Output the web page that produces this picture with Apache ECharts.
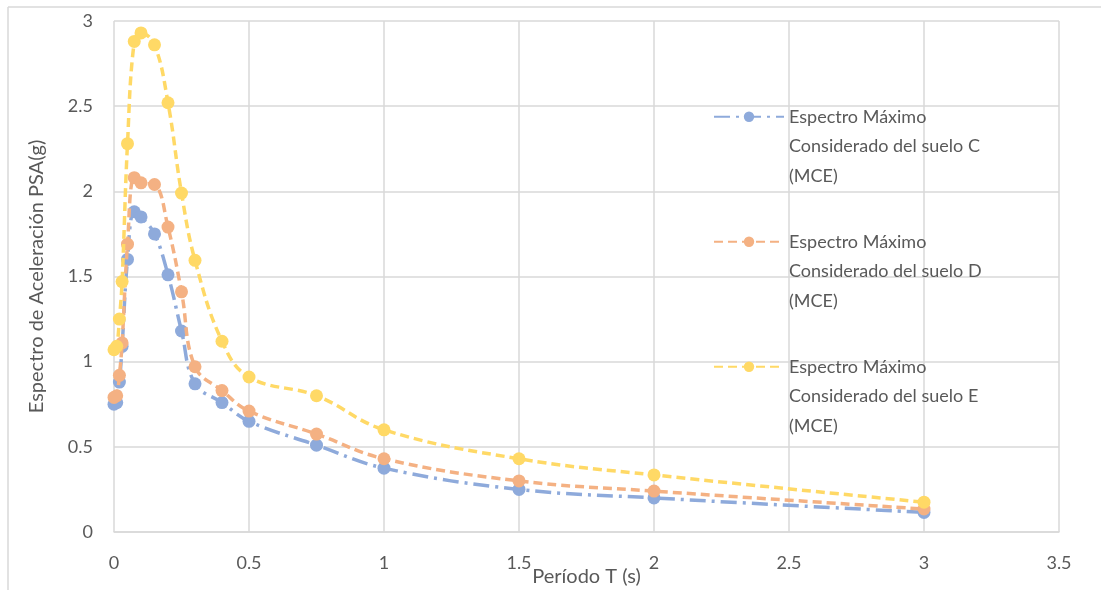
<!DOCTYPE html>
<html>
<head>
<meta charset="utf-8">
<script src="https://cdn.jsdelivr.net/npm/echarts@6/dist/echarts.min.js"></script>
<style>
html,body{margin:0;padding:0;background:#fff;}
#chart{width:1101px;height:590px;}
</style>
</head>
<body>
<div id="chart"></div>
<script>
const periods = [0, 0.01, 0.02, 0.03, 0.05, 0.075, 0.1, 0.15, 0.2, 0.25, 0.3, 0.4, 0.5, 0.75, 1, 1.5, 2, 3];
const sueloC = [0.75, 0.76, 0.88, 1.09, 1.60, 1.88, 1.85, 1.75, 1.51, 1.18, 0.87, 0.76, 0.65, 0.51, 0.375, 0.25, 0.20, 0.115];
const sueloD = [0.79, 0.80, 0.92, 1.11, 1.69, 2.08, 2.05, 2.04, 1.79, 1.41, 0.97, 0.83, 0.71, 0.575, 0.43, 0.30, 0.24, 0.135];
const sueloE = [1.07, 1.09, 1.25, 1.47, 2.28, 2.88, 2.93, 2.86, 2.52, 1.99, 1.595, 1.12, 0.91, 0.80, 0.60, 0.43, 0.335, 0.175];
const seriesNames = [
  'Espectro Máximo Considerado del suelo C (MCE)',
  'Espectro Máximo Considerado del suelo D (MCE)',
  'Espectro Máximo Considerado del suelo E (MCE)'
];
const legendLines = [
  ['Espectro Máximo', 'Considerado del suelo C', '(MCE)'],
  ['Espectro Máximo', 'Considerado del suelo D', '(MCE)'],
  ['Espectro Máximo', 'Considerado del suelo E', '(MCE)']
];
const colors = ['#8EAADB', '#F4B183', '#FFD966'];
const yAxisTitle = 'Espectro de Aceleración PSA(g)';
const xAxisTitle = 'Período T (s)';

const FONT = 'Lato';
const TXT = '#595959';
const GRID = '#D9D9D9';

function pairs(vals) { return periods.map((t, i) => [t, vals[i]]); }

const chart = echarts.init(document.getElementById('chart'));
const dashTypes = [[16, 6, 3, 6], [9, 5], [9, 5]];
const allVals = [sueloC, sueloD, sueloE];
const legendTops = [38, 163, 288];

const option = {
  animation: false,
  backgroundColor: '#fff',
  textStyle: { fontFamily: FONT },
  grid: { left: 114, right: 42, top: 21, bottom: 58, containLabel: false, outerBoundsMode: 'none' },
  xAxis: {
    type: 'value', min: 0, max: 3.5, interval: 0.5,
    name: xAxisTitle, nameLocation: 'middle', nameGap: 35, nameMoveOverlap: false,
    nameTextStyle: { fontFamily: FONT, fontSize: 20, color: TXT },
    axisLine: { show: true, lineStyle: { color: GRID, width: 1.5 } },
    axisTick: { show: false },
    axisLabel: { fontFamily: FONT, fontSize: 18, color: TXT, margin: 22 },
    splitLine: { show: true, lineStyle: { color: GRID, width: 1.5 } }
  },
  yAxis: {
    type: 'value', min: 0, max: 3, interval: 0.5,
    name: yAxisTitle, nameLocation: 'middle', nameGap: 67, nameRotate: 90, nameMoveOverlap: false,
    nameTextStyle: { fontFamily: FONT, fontSize: 20, color: TXT },
    axisLine: { show: false },
    axisTick: { show: false },
    axisLabel: { fontFamily: FONT, fontSize: 18, color: TXT, margin: 21 },
    splitLine: { show: true, lineStyle: { color: GRID, width: 1.5 } }
  },
  legend: seriesNames.map((n, i) => ({
    data: [n],
    orient: 'vertical',
    left: 708,
    top: legendTops[i],
    itemWidth: 70,
    itemHeight: 13,
    itemGap: 0,
    selectedMode: false,
    formatter: () => '\n\n' + legendLines[i].join('\n'),
    textStyle: { fontFamily: FONT, fontSize: 18, color: TXT, lineHeight: 29.5 }
  })),
  graphic: [
    { type: 'line', shape: { x1: 8, y1: 7, x2: 1101, y2: 7 }, style: { stroke: GRID, lineWidth: 1.5 }, silent: true },
    { type: 'line', shape: { x1: 8, y1: 7, x2: 8, y2: 590 }, style: { stroke: GRID, lineWidth: 1.5 }, silent: true }
  ],
  series: seriesNames.map((n, i) => ({
    name: n,
    type: 'line',
    data: pairs(allVals[i]),
    smooth: 0.4,
    symbol: 'circle',
    symbolSize: 13,
    color: colors[i],
    itemStyle: { color: colors[i] },
    lineStyle: { color: colors[i], width: 3.5, type: dashTypes[i] },
    z: 2 + i
  }))
};
chart.setOption(option);
</script>
</body>
</html>
